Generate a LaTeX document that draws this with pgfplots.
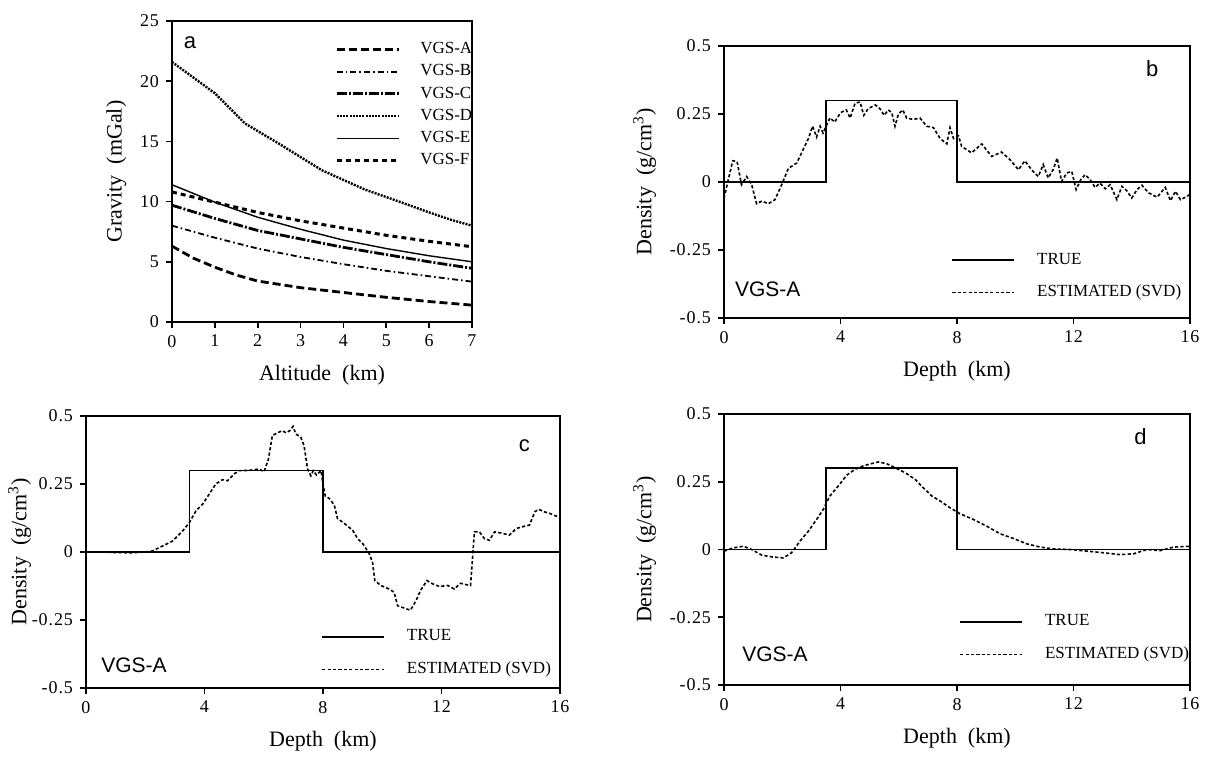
\documentclass[border=0pt]{standalone}
\usepackage{fontspec}
\setmainfont{Liberation Serif}
\newfontfamily\sansf{Liberation Sans}
\newfontfamily\tickf[LetterSpace=5]{Liberation Serif}
\usepackage{pgfplots}
\pgfplotsset{compat=1.18}

\pgfplotsset{
  panel/.style={
    scale only axis,
    axis line style={line width=0.9pt},
    tick align=outside,
    xtick pos=left, ytick pos=left,
    major tick length=3pt,
    tick style={line width=0.8pt, black},
    every tick label/.append style={font=\tickf\fontsize{9}{10}\selectfont},
    label style={font=\fontsize{11}{12}\selectfont},
    xlabel style={yshift=-2pt},
  },
  dens/.style={
    panel,
    xmin=0, xmax=16, ymin=-0.5, ymax=0.5,
    xtick={0,4,8,12,16}, xticklabels={0,4,8,12,16},
    ytick={-0.5,-0.25,0,0.25,0.5}, yticklabels={-0.5,-0.25,0,0.25,0.5},
    xlabel={Depth\ \ (km)},
    ylabel={Density\ \ (g/cm\textsuperscript{3})},
    legend style={draw=none, fill=none, inner sep=0pt, font=\fontsize{8.5}{9.5}\selectfont, row sep=5pt, cells={anchor=west},
      /tikz/every odd column/.append style={column sep=9pt}},
    legend image code/.code={\draw[#1] (0pt,0pt) -- (31pt,0pt);},
  },
  truestyle/.style={black, line width=0.7pt},
  eststyle/.style={black, line width=0.8pt, dash pattern=on 1.6pt off 1.1pt},
}

\begin{document}
\begin{tikzpicture}
\useasboundingbox (0,0) rectangle (603.5pt,380pt);

% ---------------- panel a ----------------
\begin{axis}[panel,
  at={(86pt,219pt)}, anchor=south west,
  width=150pt, height=150.5pt,
  xmin=0, xmax=7, ymin=0, ymax=25,
  xtick={0,1,2,3,4,5,6,7}, xticklabels={0,1,2,3,4,5,6,7},
  ytick={0,5,10,15,20,25}, yticklabels={0,5,10,15,20,25},
  xlabel={Altitude\ \ (km)},
  ylabel={Gravity\ \ (mGal)},
  legend style={draw=none, fill=none, inner sep=0pt, at={(axis cs:3.8,23.6)}, anchor=north west,
    font=\fontsize{8.5}{9}\selectfont, row sep=0pt, cells={anchor=west},
    /tikz/every odd column/.append style={column sep=8pt}},
  legend image code/.code={\draw[#1] (0pt,0pt) -- (31pt,0pt);},
]
\addplot[black, line width=1.4pt, dash pattern=on 4pt off 2pt] coordinates {
(0,6.3) (0.5,5.3) (1,4.55) (1.5,3.9) (2,3.4) (3,2.85) (4,2.45) (5,2.05) (6,1.7) (7,1.4)};
\addlegendentry{VGS-A}
\addplot[black, line width=0.9pt, dash pattern=on 3pt off 1.5pt on 0.8pt off 1.5pt] coordinates {
(0,8.0) (1,7.0) (2,6.1) (3,5.4) (4,4.8) (5,4.25) (6,3.8) (7,3.35)};
\addlegendentry{VGS-B}
\addplot[black, line width=1.4pt, dash pattern=on 5pt off 1pt on 1pt off 1pt] coordinates {
(0,9.7) (1,8.6) (2,7.6) (3,6.9) (4,6.2) (5,5.6) (6,5.0) (7,4.46)};
\addlegendentry{VGS-C}
\addplot[black, line width=1.2pt, dash pattern=on 1pt off 0.6pt] coordinates {
(0,21.6) (0.5,20.3) (1,19.0) (1.7,16.5) (2.5,14.8) (3,13.7) (3.5,12.6) (4,11.8) (4.5,11.0) (5.3,10.0) (6,9.1) (6.5,8.5) (7,8.0)};
\addlegendentry{VGS-D}
\addplot[black, line width=0.7pt] coordinates {
(0,11.4) (1,9.95) (2,8.7) (3,7.7) (4,6.8) (5,6.1) (6,5.5) (7,5.0)};
\addlegendentry{VGS-E}
\addplot[black, line width=1.5pt, dash pattern=on 2.5pt off 2pt] coordinates {
(0,10.8) (1,9.95) (2,9.1) (3,8.4) (4,7.8) (5,7.2) (6,6.7) (7,6.25)};
\addlegendentry{VGS-F}
\node[font=\sansf\fontsize{11}{12}\selectfont] at (axis cs:0.42,23.2) {a};
\end{axis}

% ---------------- panel b ----------------
\begin{axis}[dens,
  at={(362pt,221pt)}, anchor=south west,
  width=233pt, height=136pt,
  legend style={at={(axis cs:7.8,-0.245)}, anchor=north west},
]
\addplot[truestyle] coordinates {(0,0) (3.5,0) (3.5,0.3) (8,0.3) (8,0) (16,0)};
\addlegendentry{TRUE}
\addplot[eststyle] coordinates {
(0,-0.06) (0.15,0.01) (0.3,0.078) (0.45,0.075) (0.6,-0.01) (0.78,0.02) (0.95,-0.01) (1.12,-0.08) (1.3,-0.07) (1.52,-0.08) (1.75,-0.065) (1.98,-0.01) (2.21,0.05) (2.5,0.07) (2.72,0.12) (2.9,0.16) (3.04,0.205) (3.18,0.165) (3.3,0.205) (3.4,0.18) (3.64,0.236) (3.8,0.22) (4.0,0.255) (4.2,0.265) (4.33,0.235) (4.5,0.29) (4.67,0.294) (4.8,0.245) (4.95,0.27) (5.2,0.283) (5.35,0.27) (5.5,0.245) (5.64,0.265) (5.76,0.255) (5.87,0.205) (5.99,0.25) (6.14,0.265) (6.27,0.235) (6.5,0.23) (6.73,0.235) (6.96,0.205) (7.19,0.2) (7.42,0.16) (7.65,0.14) (7.76,0.2) (7.88,0.16) (8.05,0.17) (8.16,0.131) (8.5,0.107) (8.85,0.14) (9.19,0.094) (9.53,0.11) (9.82,0.082) (10.11,0.045) (10.33,0.078) (10.56,0.045) (10.79,0.02) (10.96,0.064) (11.13,0.015) (11.3,0.045) (11.44,0.088) (11.59,0.002) (11.77,0.033) (11.94,0.039) (12.09,-0.028) (12.25,0.009) (12.4,0.027) (12.57,0.009) (12.74,-0.02) (12.91,-0.004) (13.09,-0.025) (13.26,-0.01) (13.49,-0.065) (13.66,-0.016) (13.83,-0.032) (14.0,-0.059) (14.18,-0.028) (14.35,-0.012) (14.58,-0.04) (14.87,-0.056) (15.15,-0.02) (15.33,-0.069) (15.5,-0.034) (15.67,-0.065) (15.9,-0.053) (16,-0.045)};
\addlegendentry{ESTIMATED (SVD)}
\node[font=\sansf\fontsize{10.5}{12}\selectfont] at (axis cs:1.5,-0.393) {VGS-A};
\node[font=\sansf\fontsize{11}{12}\selectfont] at (axis cs:14.7,0.415) {b};
\end{axis}

% ---------------- panel c ----------------
\begin{axis}[dens,
  at={(43pt,36pt)}, anchor=south west,
  width=237pt, height=136pt,
  ylabel style={at={(axis description cs:-0.14,0.5)}, anchor=center},
  legend style={at={(axis cs:7.93,-0.27)}, anchor=north west},
]
\addplot[truestyle] coordinates {(0,0) (3.5,0) (3.5,0.3) (8,0.3) (8,0) (16,0)};
\addlegendentry{TRUE}
\addplot[eststyle] coordinates {
(0,0) (0.5,0) (1.0,-0.002) (1.5,-0.003) (2.0,0) (2.25,0.004) (2.58,0.022) (2.92,0.04) (3.26,0.077) (3.49,0.108) (3.71,0.151) (3.94,0.176) (4.16,0.213) (4.38,0.25) (4.61,0.266) (4.78,0.262) (5.0,0.287) (5.17,0.299) (5.5,0.3) (5.84,0.305) (6.01,0.295) (6.16,0.342) (6.29,0.428) (6.46,0.438) (6.63,0.446) (6.75,0.438) (6.88,0.446) (6.99,0.462) (7.08,0.434) (7.25,0.422) (7.36,0.391) (7.48,0.305) (7.59,0.28) (7.67,0.299) (7.78,0.283) (7.93,0.299) (8.01,0.244) (8.08,0.204) (8.2,0.198) (8.38,0.173) (8.49,0.123) (8.72,0.105) (9.0,0.08) (9.17,0.049) (9.34,0.031) (9.56,-0.006) (9.67,-0.037) (9.75,-0.105) (9.95,-0.123) (10.23,-0.136) (10.4,-0.148) (10.52,-0.198) (10.74,-0.206) (10.95,-0.214) (11.14,-0.179) (11.29,-0.142) (11.51,-0.105) (11.7,-0.117) (11.93,-0.127) (12.21,-0.123) (12.43,-0.136) (12.64,-0.115) (12.83,-0.12) (12.98,-0.123) (13.05,-0.019) (13.11,0.074) (13.28,0.074) (13.45,0.049) (13.62,0.043) (13.79,0.074) (14.01,0.07) (14.29,0.062) (14.52,0.086) (14.74,0.093) (14.97,0.099) (15.15,0.148) (15.28,0.157) (15.46,0.148) (15.65,0.142) (15.87,0.132) (16,0.13)};
\addlegendentry{ESTIMATED (SVD)}
\node[font=\sansf\fontsize{10.5}{12}\selectfont] at (axis cs:1.62,-0.415) {VGS-A};
\node[font=\sansf\fontsize{11}{12}\selectfont] at (axis cs:14.8,0.39) {c};
\end{axis}

% ---------------- panel d ----------------
\begin{axis}[dens,
  at={(362pt,37.5pt)}, anchor=south west,
  width=233pt, height=135.5pt,
  legend style={at={(axis cs:8.07,-0.225)}, anchor=north west},
]
\addplot[truestyle] coordinates {(0,0) (3.5,0) (3.5,0.3) (8,0.3) (8,0) (16,0)};
\addlegendentry{TRUE}
\addplot[eststyle] coordinates {
(0,-0.006) (0.32,0.006) (0.66,0.012) (0.95,0) (1.3,-0.021) (1.69,-0.028) (2.04,-0.031) (2.32,-0.012) (2.61,0.031) (2.9,0.068) (3.18,0.111) (3.41,0.148) (3.64,0.198) (3.93,0.235) (4.21,0.274) (4.5,0.296) (4.79,0.309) (5.07,0.317) (5.3,0.323) (5.58,0.317) (5.87,0.302) (6.21,0.284) (6.56,0.259) (6.84,0.228) (7.13,0.198) (7.42,0.179) (7.76,0.154) (8.1,0.132) (8.56,0.111) (9.02,0.086) (9.48,0.058) (9.93,0.041) (10.39,0.021) (10.85,0.009) (11.31,0.002) (11.88,0) (12.45,-0.006) (13.03,-0.012) (13.6,-0.019) (14.06,-0.016) (14.52,0) (14.98,-0.004) (15.44,0.009) (16,0.012)};
\addlegendentry{ESTIMATED (SVD)}
\node[font=\sansf\fontsize{10.5}{12}\selectfont] at (axis cs:1.75,-0.385) {VGS-A};
\node[font=\sansf\fontsize{11}{12}\selectfont] at (axis cs:14.3,0.417) {d};
\end{axis}
\end{tikzpicture}
\end{document}
